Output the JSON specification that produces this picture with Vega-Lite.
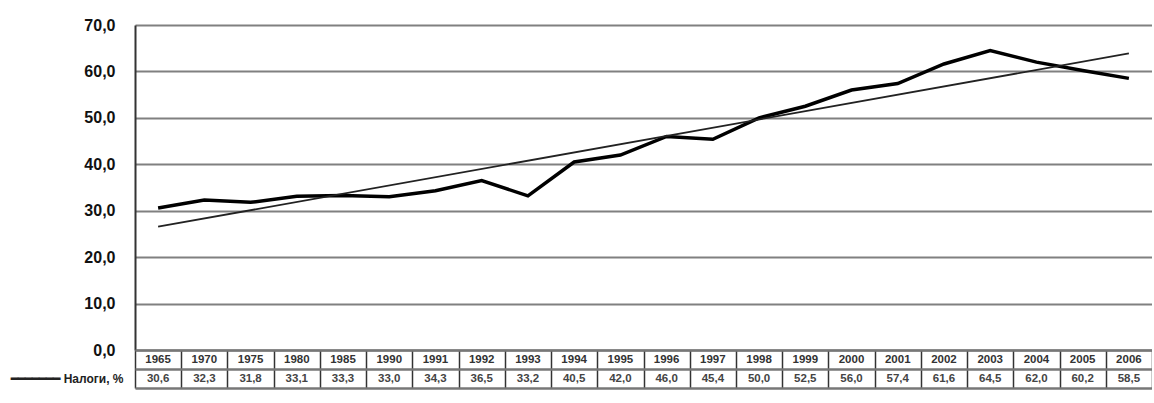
{
  "$schema": "https://vega.github.io/schema/vega-lite/v6.json",
  "background": "white",
  "padding": {"left": 7, "top": 17, "right": 0, "bottom": 6},
  "config": {
    "locale": {"number": {"decimal": ",", "thousands": " ", "grouping": [3], "currency": ["", ""]}},
    "view": {"stroke": null},
    "font": "Liberation Sans"
  },
  "datasets": {
    "share": [
      {"year": "1965", "value": 30.6},
      {"year": "1970", "value": 32.3},
      {"year": "1975", "value": 31.8},
      {"year": "1980", "value": 33.1},
      {"year": "1985", "value": 33.3},
      {"year": "1990", "value": 33.0},
      {"year": "1991", "value": 34.3},
      {"year": "1992", "value": 36.5},
      {"year": "1993", "value": 33.2},
      {"year": "1994", "value": 40.5},
      {"year": "1995", "value": 42.0},
      {"year": "1996", "value": 46.0},
      {"year": "1997", "value": 45.4},
      {"year": "1998", "value": 50.0},
      {"year": "1999", "value": 52.5},
      {"year": "2000", "value": 56.0},
      {"year": "2001", "value": 57.4},
      {"year": "2002", "value": 61.6},
      {"year": "2003", "value": 64.5},
      {"year": "2004", "value": 62.0},
      {"year": "2005", "value": 60.2},
      {"year": "2006", "value": 58.5}
    ]
  },
  "data": {"name": "share"},
  "spacing": 0,
  "bounds": "flush",
  "vconcat": [
    {
      "width": 1017,
      "height": 325,
      "transform": [{"window": [{"op": "row_number", "as": "idx"}]}],
      "encoding": {
        "x": {"field": "idx", "type": "quantitative", "scale": {"domain": [0.5, 22.5], "nice": false, "zero": false}, "axis": null},
        "y": {
          "field": "value", "type": "quantitative",
          "scale": {"domain": [0, 70], "nice": false},
          "axis": {
            "title": null, "values": [0, 10, 20, 30, 40, 50, 60, 70], "format": ".1f",
            "grid": true, "gridColor": "#808080", "gridWidth": 2, "gridOpacity": 1,
            "ticks": false, "labelPadding": 20,
            "labelFont": "Liberation Sans", "labelFontSize": 16, "labelFontWeight": "bold", "labelColor": "#111",
            "domain": true, "domainColor": "#333", "domainWidth": 2
          }
        }
      },
      "layer": [
        {"mark": {"type": "line", "color": "black", "strokeWidth": 3.5}},
        {
          "transform": [{"regression": "value", "on": "idx"}],
          "mark": {"type": "line", "color": "#222", "strokeWidth": 1.8}
        }
      ]
    },
    {
      "width": 1017,
      "height": 38,
      "layer": [
        {
          "mark": {"type": "text", "fontSize": 11.5, "fontWeight": "bold", "color": "#333"},
          "encoding": {
            "x": {
              "field": "year", "type": "ordinal", "sort": null,
              "scale": {"paddingInner": 0, "paddingOuter": 0},
              "axis": {"title": null, "labels": false, "ticks": false, "domain": false, "grid": true, "tickBand": "extent", "gridColor": "#333", "gridWidth": 1.5, "gridOpacity": 1}
            },
            "y": {
              "datum": "yr", "type": "ordinal",
              "scale": {"domain": ["yr", "val"], "paddingInner": 0, "paddingOuter": 0},
              "axis": {
                "title": null, "ticks": false, "domain": false,
                "grid": true, "tickBand": "extent", "gridColor": "#777", "gridWidth": 2.5, "gridOpacity": 1,
                "labelExpr": "datum.value == 'val' ? '━━━━━━━  Налоги, %' : ''",
                "labelFontSize": 12, "labelFontWeight": "bold", "labelColor": "#222", "labelPadding": 12
              }
            },
            "text": {"field": "year"}
          }
        },
        {
          "mark": {"type": "text", "fontSize": 11.5, "fontWeight": "bold", "color": "#444"},
          "encoding": {
            "x": {"field": "year", "type": "ordinal", "sort": null},
            "y": {"datum": "val", "type": "ordinal"},
            "text": {"field": "value", "type": "quantitative", "format": ".1f"}
          }
        }
      ]
    }
  ]
}
